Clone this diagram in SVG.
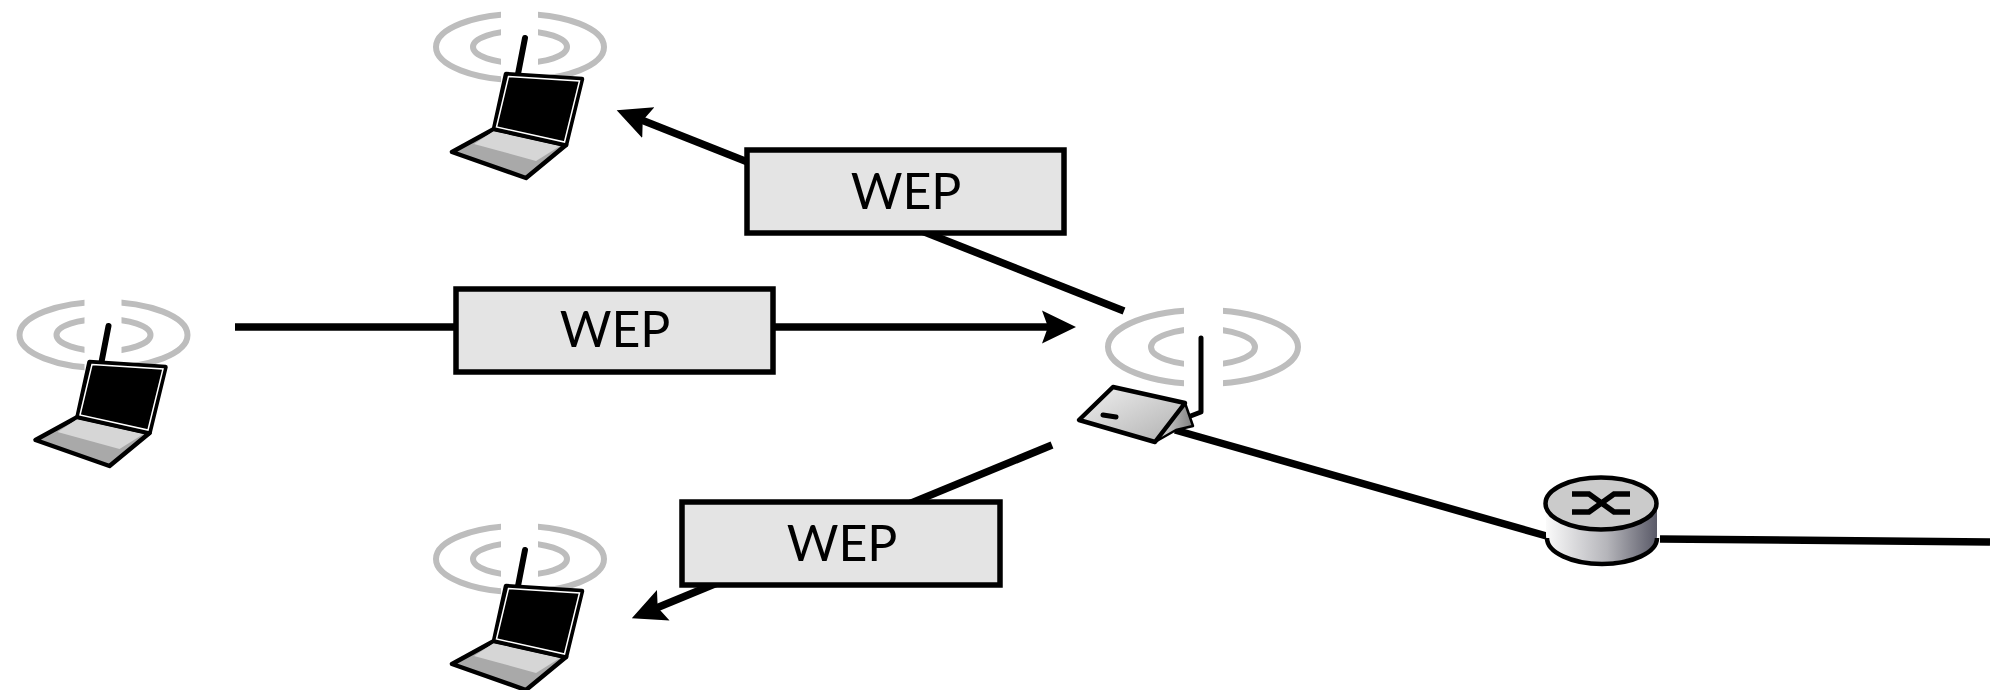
<svg xmlns="http://www.w3.org/2000/svg" width="1990" height="690" viewBox="0 0 1990 690">
<style>
.ring{fill:none;stroke:#bdbdbd;stroke-width:6}
.wire{fill:none;stroke:#000;stroke-width:7.500}
.box{fill:#e4e4e4;stroke:#000;stroke-width:5.500}
.lbl{font-family:"Lato","Liberation Sans",sans-serif;font-size:50px;fill:#000;text-anchor:middle;font-weight:400}
.ol{stroke:#000;stroke-width:4.500;stroke-linejoin:round}
</style>
<defs>
<clipPath id="gapL"><rect x="-110" y="-50" width="91" height="100"/><rect x="18" y="-50" width="92" height="100"/></clipPath>
<clipPath id="gapA"><rect x="-110" y="-50" width="91" height="100"/><rect x="20" y="-50" width="90" height="100"/></clipPath>
<linearGradient id="ap" x1="0" y1="0" x2="1" y2="1"><stop offset="0" stop-color="#f0f0f0"/><stop offset="1" stop-color="#b0b0b0"/></linearGradient>
<linearGradient id="aps" x1="0" y1="0" x2="1" y2="0"><stop offset="0" stop-color="#e0e0e0"/><stop offset="1" stop-color="#808080"/></linearGradient>
<linearGradient id="rt" x1="0" y1="0" x2="1" y2="0"><stop offset="0" stop-color="#fafafa"/><stop offset="0.55" stop-color="#b5b5ba"/><stop offset="1" stop-color="#5a5a68"/></linearGradient>
<marker id="arr" markerUnits="userSpaceOnUse" markerWidth="38" markerHeight="36" refX="10" refY="18" orient="auto"><path d="M0,1.500 L34,18 L0,34.500 L6,18Z" fill="#000"/></marker>
<g id="laptop">
<g clip-path="url(#gapL)"><ellipse class="ring" cx="0" cy="0" rx="84" ry="33"/><ellipse class="ring" cx="0" cy="0" rx="47" ry="16"/></g>
<path d="M-2,27 L5,-9" stroke="#000" stroke-width="6" stroke-linecap="round" fill="none"/>
<path class="ol" d="M-26,82 L-68,105 L6,131 L46,98Z" fill="#a9a9a9"/>
<path d="M-26,84 L-46,97 L16,114 L40,99Z" fill="#d6d6d6"/>
<path class="ol" d="M-14,27 L62,32 L46,98 L-26,82Z" fill="#000"/>
<path d="M-11.500,29.500 L59.500,34 L44.500,95 L-23.500,80Z" fill="#000" stroke="#fff" stroke-width="1.500"/>
</g>
</defs>
<g id="connectors">
<path class="wire" d="M1124,311 L639,119" marker-end="url(#arr)"/>
<path class="wire" d="M235,327 L1052,327" marker-end="url(#arr)"/>
<path class="wire" d="M1052,445 L654,609" marker-end="url(#arr)"/>
<path class="wire" d="M1175,430 L1550,537"/>
<path class="wire" d="M1660,539 L1990,542"/>
</g>
<g id="laptop-top"><use href="#laptop" transform="translate(520,47)"/></g>
<g id="laptop-left"><use href="#laptop" transform="translate(103.500,335)"/></g>
<g id="laptop-bottom"><use href="#laptop" transform="translate(520,559)"/></g>
<g id="access-point">
<g transform="translate(1203,347)" clip-path="url(#gapA)"><ellipse class="ring" cx="0" cy="0" rx="95" ry="37"/><ellipse class="ring" cx="0" cy="0" rx="52" ry="18"/></g>
<path d="M1201,338 L1201,412 L1188,417" fill="none" stroke="#000" stroke-width="5" stroke-linecap="round" stroke-linejoin="round"/>
<path d="M1185,403 L1193,426 L1176,430 L1155,442Z" fill="url(#aps)" stroke="#000" stroke-width="2.500" stroke-linejoin="round"/>
<path class="ol" d="M1113,387 L1185,403 L1155,442 L1079,420Z" fill="url(#ap)"/>
<path d="M1103,415 L1116,417" stroke="#000" stroke-width="5" stroke-linecap="round"/>
</g>
<g id="router">
<path d="M1546,503 L1546,536 A55.500,26 0 0 0 1657,536 L1657,503Z" fill="url(#rt)"/>
<path d="M1547,538 A55,26 0 0 0 1657,538" fill="none" stroke="#000" stroke-width="4.500"/>
<ellipse class="ol" cx="1601" cy="503.500" rx="55.500" ry="26" fill="#cbcbcb"/>
<path d="M1572,494 L1589,494 L1614,512 L1630,512 M1572,512 L1589,512 L1614,494 L1630,494" fill="none" stroke="#000" stroke-width="5.500"/>
</g>
<g id="wep-top"><rect class="box" x="747" y="150" width="317" height="83"/><text class="lbl" x="906" y="209">WEP</text></g>
<g id="wep-middle"><rect class="box" x="456" y="289" width="317" height="83"/><text class="lbl" x="615" y="347">WEP</text></g>
<g id="wep-bottom"><rect class="box" x="682" y="502" width="318" height="83"/><text class="lbl" x="842" y="561">WEP</text></g>
</svg>
